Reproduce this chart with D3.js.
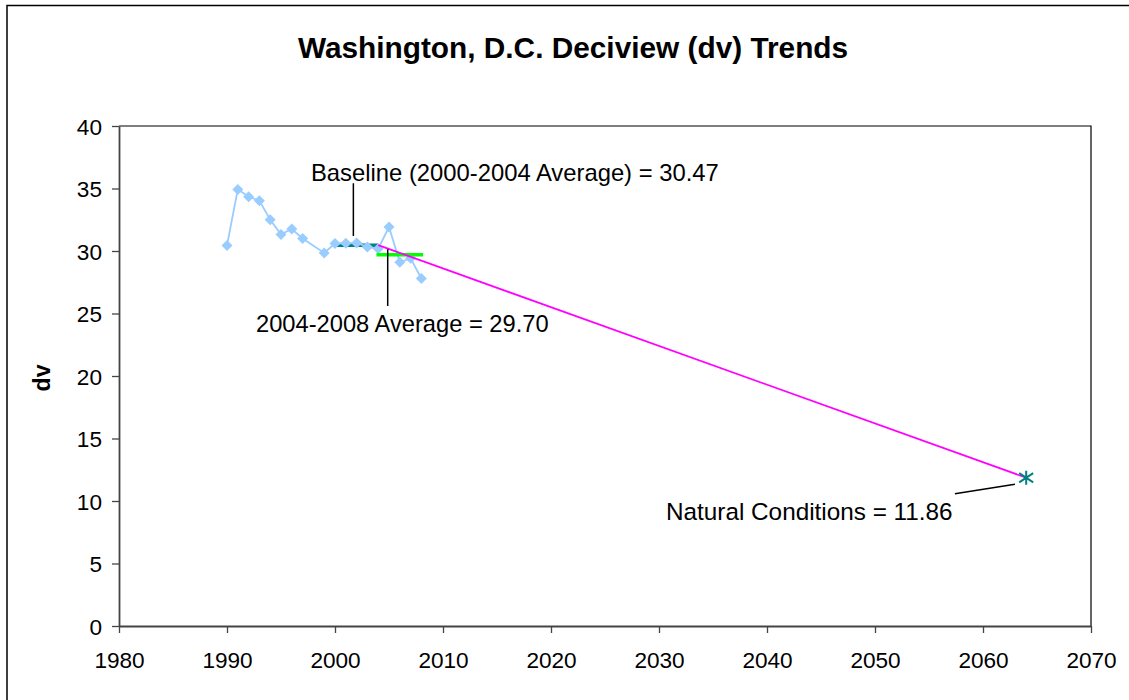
<!DOCTYPE html>
<html>
<head>
<meta charset="utf-8">
<script src="https://cdn.jsdelivr.net/npm/d3@7"></script>
<style>
  html, body { margin: 0; padding: 0; background: #fff; }
  svg { display: block; }
  text { font-family: Arial, "Liberation Sans", sans-serif; fill: #000; }
</style>
</head>
<body>
<svg id="chart" width="1129" height="700"></svg>
<script>
// ---- data ----
const years = [1990, 1991, 1992, 1993, 1994, 1995, 1996, 1997, 1999, 2000, 2001, 2002, 2003, 2004, 2005, 2006, 2007, 2008];
const dvValues = [30.45, 34.93, 34.35, 34.03, 32.5, 31.33, 31.76, 31.0, 29.85, 30.6, 30.62, 30.64, 30.33, 30.18, 31.92, 29.1, 29.42, 27.8];
const baselineYears = [2000, 2004];
const baselineValue = 30.47;
const recentYears = [2004, 2008];
const recentValue = 29.70;
const glidePathYears = [2004, 2064];
const glidePathValues = [30.47, 11.86];
const naturalYear = 2064;
const naturalValue = 11.86;
const xTicks = [1980, 1990, 2000, 2010, 2020, 2030, 2040, 2050, 2060, 2070];
const yTicks = [0, 5, 10, 15, 20, 25, 30, 35, 40];
const titleText = "Washington, D.C. Deciview (dv) Trends";
const yLabel = "dv";
const labelBaseline = "Baseline (2000-2004 Average) = 30.47";
const labelRecent = "2004-2008 Average = 29.70";
const labelNatural = "Natural Conditions = 11.86";

// ---- layout ----
const svg = d3.select("#chart");
const L = 119, R = 1091, T = 126, B = 626;
const x = d3.scaleLinear().domain([1980, 2070]).range([L, R]);
const y = d3.scaleLinear().domain([0, 40]).range([B, T]);

// outer frame
svg.append("rect").attr("x", 7).attr("y", 5.5).attr("width", 1300).attr("height", 900)
  .attr("fill", "none").attr("stroke", "#000").attr("stroke-width", 1.5);

// plot border (top/right)
svg.append("path").attr("d", `M${L},${T}H${R}V${B}`).attr("fill", "none")
  .attr("stroke", "#000").attr("stroke-width", 1.2);

// axes
const xAxis = d3.axisBottom(x).tickValues(xTicks).tickFormat(d3.format("d")).tickSizeInner(7).tickSizeOuter(0).tickPadding(19);
const yAxis = d3.axisLeft(y).tickValues(yTicks).tickSizeInner(7).tickSizeOuter(0).tickPadding(10);

const gx = svg.append("g").attr("transform", `translate(0,${B})`).call(xAxis);
const gy = svg.append("g").attr("transform", `translate(${L},0)`).call(yAxis);
[gx, gy].forEach(g => {
  g.select(".domain").attr("stroke", "#444").attr("stroke-width", 1.8);
  g.selectAll(".tick line").attr("stroke", "#444").attr("stroke-width", 1.3);
  g.selectAll(".tick text").attr("font-size", 22.6).attr("font-family", "Arial, 'Liberation Sans', sans-serif").attr("fill", "#000");
});
gy.selectAll(".tick text").attr("dy", "0.36em");

// title
svg.append("text").attr("x", 573).attr("y", 58).attr("text-anchor", "middle")
  .attr("font-size", 29.8).attr("font-weight", "bold").text(titleText);

// y label
svg.append("text").attr("transform", "translate(50,378) rotate(-90)").attr("text-anchor", "middle")
  .attr("font-size", 23).attr("font-weight", "bold").text(yLabel);

// baseline average line (under series)
svg.append("line")
  .attr("x1", x(baselineYears[0])).attr("x2", x(baselineYears[1]))
  .attr("y1", y(baselineValue)).attr("y2", y(baselineValue))
  .attr("stroke", "#008080").attr("stroke-width", 3.5);

// observed series
const pts = years.map((yr, i) => [yr, dvValues[i]]);
svg.append("path").datum(pts)
  .attr("d", d3.line().x(d => x(d[0])).y(d => y(d[1])))
  .attr("fill", "none").attr("stroke", "#99CCFF").attr("stroke-width", 1.8);
svg.append("g").selectAll("path").data(pts).join("path")
  .attr("transform", d => `translate(${x(d[0])},${y(d[1])})`)
  .attr("d", "M0,-5.5L5.5,0L0,5.5L-5.5,0Z")
  .attr("fill", "#99CCFF");

// recent average line
svg.append("line")
  .attr("x1", x(recentYears[0])).attr("x2", x(recentYears[1]))
  .attr("y1", y(recentValue)).attr("y2", y(recentValue))
  .attr("stroke", "#00FF00").attr("stroke-width", 3.5).attr("stroke-linecap", "square");

// glide path
svg.append("line")
  .attr("x1", x(glidePathYears[0])).attr("x2", x(glidePathYears[1]))
  .attr("y1", y(glidePathValues[0])).attr("y2", y(glidePathValues[1]))
  .attr("stroke", "#FF00FF").attr("stroke-width", 1.8);

// natural conditions star
const sx = x(naturalYear), sy = y(naturalValue), s = 7;
svg.append("path")
  .attr("d", `M${sx},${sy - s}V${sy + s}M${sx - s},${sy - s * 0.65}L${sx + s},${sy + s * 0.65}M${sx - s},${sy + s * 0.65}L${sx + s},${sy - s * 0.65}`)
  .attr("stroke", "#008080").attr("stroke-width", 2).attr("fill", "none");

// annotations
const leader = (x1, y1, x2, y2) => svg.append("line")
  .attr("x1", x(x1)).attr("y1", y(y1)).attr("x2", x(x2)).attr("y2", y(y2))
  .attr("stroke", "#000").attr("stroke-width", 1.5);
leader(2001.7, 31.2, 2001.7, 35.42);
leader(2004.88, 30.14, 2004.88, 25.6);
leader(2057.4, 10.58, 2062.96, 11.34);

svg.append("text").attr("x", 311).attr("y", 181).attr("font-size", 23.8).text(labelBaseline);
svg.append("text").attr("x", 256).attr("y", 332).attr("font-size", 23.7).text(labelRecent);
svg.append("text").attr("x", 666).attr("y", 520).attr("font-size", 24.3).text(labelNatural);
</script>
</body>
</html>
